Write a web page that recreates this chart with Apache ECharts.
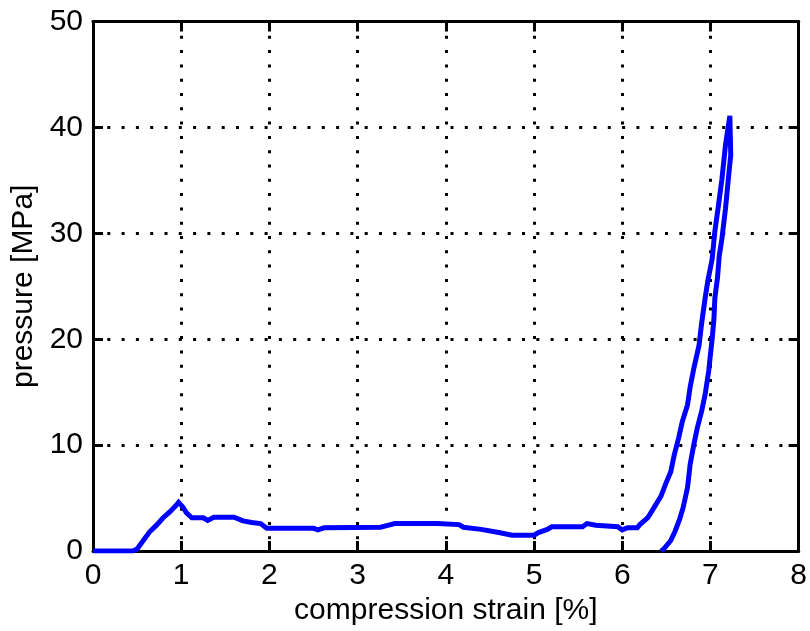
<!DOCTYPE html>
<html><head><meta charset="utf-8">
<script src="https://cdn.jsdelivr.net/npm/echarts@6/dist/echarts.min.js"></script>
<style>html,body{margin:0;padding:0;background:#fff}#c{width:810px;height:631px}</style>
</head><body><div id="c"></div>
<script>
const strain = [0,0.45,0.5,0.57,0.64,0.72,0.79,0.87,0.94,0.97,1.02,1.06,1.12,1.25,1.3,1.37,1.6,1.7,1.8,1.9,1.97,2.5,2.55,2.62,3.26,3.33,3.42,3.9,4.15,4.2,4.4,4.6,4.75,5.0,5.05,5.15,5.2,5.55,5.6,5.7,5.95,6.0,6.06,6.17,6.2,6.29,6.36,6.44,6.49,6.55,6.59,6.64,6.68,6.74,6.77,6.81,6.87,6.9,6.94,6.97,7.02,7.05,7.09,7.13,7.17,7.22,7.24,7.23,7.2,7.17,7.13,7.1,7.08,7.05,7.04,7.02,6.98,6.94,6.9,6.85,6.81,6.77,6.74,6.69,6.65,6.6,6.55,6.47,6.44];
const pressure = [0,0,0.2,1.0,1.8,2.45,3.1,3.7,4.3,4.6,4.15,3.6,3.15,3.15,2.9,3.2,3.2,2.85,2.7,2.6,2.15,2.15,2.0,2.2,2.25,2.4,2.6,2.6,2.5,2.25,2.05,1.75,1.5,1.5,1.75,2.05,2.3,2.3,2.6,2.45,2.3,2.0,2.2,2.2,2.5,3.15,4.1,5.2,6.3,7.5,9.1,10.7,12.2,13.8,15.5,17.2,19.4,21.5,23.9,25.5,27.6,30.2,32.6,35.1,38.3,41.1,41.0,37.4,34.9,32.3,29.5,27.9,25.8,23.9,22.0,20.1,17.0,14.8,13.2,11.6,10.0,8.2,6.0,4.1,3.0,1.9,1.0,0.2,0];
const xTicks = [0,1,2,3,4,5,6,7,8];
const yTicks = [0,10,20,30,40,50];
const xTitle = 'compression strain [%]';
const yTitle = 'pressure [MPa]';

const FONT = 'Liberation Sans';
const black = '#000';
const chart = echarts.init(document.getElementById('c'), null, {renderer:'canvas'});
const pts = strain.map((s,i)=>[s, pressure[i]]);
const axLine = {show:true, onZero:false, lineStyle:{color:black, width:3}};
const ticks = {show:true, inside:true, length:10, lineStyle:{color:black, width:3}};
const grid = {show:true, lineStyle:{color:black, width:3, type:[3,11.3]}};
chart.setOption({
  animation:false,
  backgroundColor:'#fff',
  grid:{left:93, right:5, top:21.5, bottom:77, containLabel:false},
  xAxis:[{
    type:'value', min:xTicks[0], max:xTicks[xTicks.length-1], interval:1, position:'bottom',
    axisLine:axLine, axisTick:ticks, splitLine:grid,
    axisLabel:{color:black, fontFamily:FONT, fontSize:30, margin:10},
    name:xTitle, nameLocation:'middle', nameGap:43,
    nameTextStyle:{color:black, fontFamily:FONT, fontSize:30}
  },{
    type:'value', min:xTicks[0], max:xTicks[xTicks.length-1], interval:1, position:'top',
    axisLine:axLine, axisTick:ticks, splitLine:{show:false}, axisLabel:{show:false}
  }],
  yAxis:[{
    type:'value', min:yTicks[0], max:yTicks[yTicks.length-1], interval:10, position:'left',
    axisLine:axLine, axisTick:ticks, splitLine:grid,
    axisLabel:{color:black, fontFamily:FONT, fontSize:30, margin:10},
    name:yTitle, nameLocation:'middle', nameGap:52,
    nameTextStyle:{color:black, fontFamily:FONT, fontSize:30}
  },{
    type:'value', min:yTicks[0], max:yTicks[yTicks.length-1], interval:10, position:'right',
    axisLine:axLine, axisTick:ticks, splitLine:{show:false}, axisLabel:{show:false}
  }],
  series:[{
    type:'line', data:pts, xAxisIndex:0, yAxisIndex:0, showSymbol:false, symbol:'none',
    lineStyle:{color:'#0000ff', width:5, join:'miter'}, z:3
  }]
});
</script></body></html>
